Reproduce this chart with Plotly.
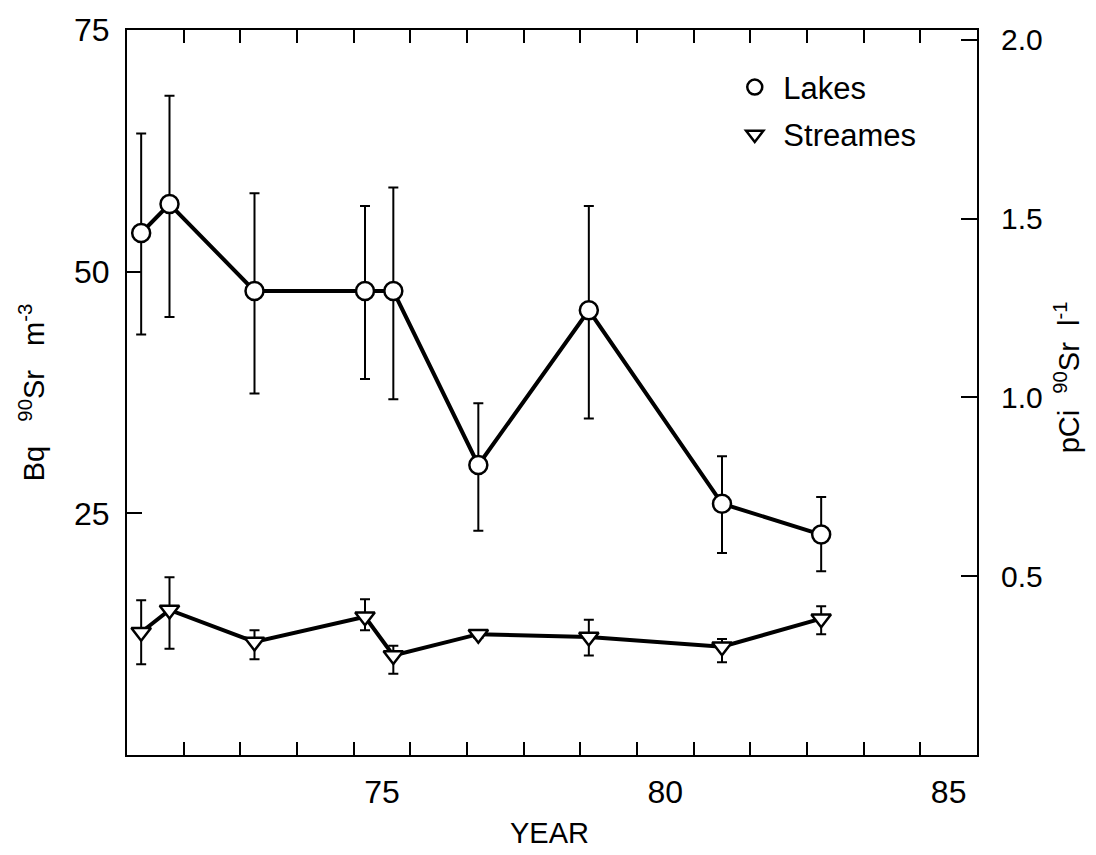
import plotly.graph_objects as go

# Sampling dates (decimal year, 19xx) and 90Sr activity in Bq m^-3
years = [71.25, 71.75, 73.25, 75.2, 75.7, 77.2, 79.15, 81.5, 83.25]

lakes = [54, 57, 48, 48, 48, 30, 46, 26, 22.8]
lakes_hi = [64.3, 68.2, 58.1, 56.8, 58.7, 36.4, 56.8, 30.9, 26.7]
lakes_lo = [43.5, 45.3, 37.4, 38.9, 36.8, 23.2, 34.8, 20.9, 19.0]

streams = [12.7, 15.0, 11.7, 14.3, 10.3, 12.5, 12.2, 11.2, 14.1]
streams_hi = [16.0, 18.4, 12.9, 16.1, 11.3, 12.9, 14.0, 12.0, 15.4]
streams_lo = [9.4, 11.0, 9.9, 12.9, 8.4, 12.1, 10.3, 9.6, 12.5]

# Axis ticks
year_ticks = list(range(72, 86))
year_label_pos = [75.5, 80.5, 85.5]
year_labels = ["75", "80", "85"]
bq_ticks = [25, 50, 75]
pci_ticks = [0.5, 1.0, 1.5, 2.0]
pci_labels = ["0.5", "1.0", "1.5", "2.0"]

BQ_PER_PCI = 37.0  # 1 pCi l^-1 = 37 Bq m^-3
BQ_MAX = 75

FONT = "Liberation Sans"
BLACK = "black"
SP = "&nbsp;"


def err(vals, hi, lo):
    return dict(
        type="data", symmetric=False,
        array=[h - v for v, h in zip(vals, hi)],
        arrayminus=[v - l for v, l in zip(vals, lo)],
        color=BLACK, thickness=2, width=5,
    )


fig = go.Figure()

fig.add_trace(go.Scatter(
    x=years, y=lakes, mode="lines+markers", showlegend=False,
    line=dict(color=BLACK, width=4),
    marker=dict(symbol="circle", size=18, color="white",
                line=dict(color=BLACK, width=2.5)),
    error_y=err(lakes, lakes_hi, lakes_lo),
))

fig.add_trace(go.Scatter(
    x=years, y=streams, mode="lines+markers", showlegend=False,
    line=dict(color=BLACK, width=4),
    marker=dict(symbol="triangle-down", size=17, color="white",
                line=dict(color=BLACK, width=2.5)),
    error_y=err(streams, streams_hi, streams_lo),
))

# Legend entries (symbols only), also anchoring the secondary axes
fig.add_trace(go.Scatter(
    x=[None], y=[None], mode="markers", name=SP + "Lakes", legendgroup="a",
    xaxis="x2", yaxis="y2",
    marker=dict(symbol="circle", size=15, color="white",
                line=dict(color=BLACK, width=2.5)),
))
fig.add_trace(go.Scatter(
    x=[None], y=[None], mode="markers", name=SP + "Streames",
    legendgroup="b", xaxis="x2", yaxis="y2",
    marker=dict(symbol="triangle-down", size=15, color="white",
                line=dict(color=BLACK, width=2.5)),
))

x_range = [71, 86]

fig.update_layout(
    width=1096, height=855, autosize=False,
    margin=dict(l=127, r=119, t=25, b=100),
    plot_bgcolor="white", paper_bgcolor="white",
    font=dict(family=FONT, color=BLACK, size=30),
    showlegend=True,
    legend=dict(
        x=0.715, y=0.958, xanchor="left", yanchor="top",
        font=dict(size=31, family=FONT), bgcolor="rgba(0,0,0,0)",
        tracegroupgap=4, itemwidth=30,
    ),
    xaxis=dict(
        range=x_range, tickmode="array", tickvals=year_ticks,
        showticklabels=False, ticks="inside", ticklen=13, tickwidth=2,
        tickcolor=BLACK, showline=True, linewidth=2, linecolor=BLACK,
        mirror="ticks", showgrid=False, zeroline=False,
    ),
    xaxis2=dict(
        overlaying="x", anchor="y", side="bottom", range=x_range,
        tickmode="array", tickvals=year_label_pos, ticktext=year_labels,
        ticks="outside", ticklen=9, tickcolor="rgba(0,0,0,0)",
        tickfont=dict(size=32, family=FONT),
        showline=False, showgrid=False, zeroline=False,
    ),
    yaxis=dict(
        range=[0, BQ_MAX], tickmode="array", tickvals=bq_ticks,
        ticks="inside", ticklen=15, tickwidth=2, tickcolor=BLACK,
        tickfont=dict(size=32, family=FONT), ticklabelstandoff=9,
        showline=True, linewidth=2, linecolor=BLACK,
        showgrid=False, zeroline=False,
    ),
    yaxis2=dict(
        overlaying="y", anchor="x", side="right",
        range=[0, BQ_MAX / BQ_PER_PCI], tickmode="array",
        tickvals=pci_ticks, ticktext=pci_labels,
        ticks="inside", ticklen=16, tickwidth=2, tickcolor=BLACK,
        tickfont=dict(size=30, family=FONT), ticklabelstandoff=16,
        showline=True, linewidth=2, linecolor=BLACK,
        showgrid=False, zeroline=False,
    ),
    annotations=[
        dict(text="YEAR", xref="paper", yref="paper", x=0.4976, y=-0.107,
             xanchor="center", yanchor="middle", showarrow=False,
             font=dict(size=29, family=FONT)),
        dict(text="Bq" + SP * 3 + "<sup>90</sup>Sr" + SP * 3 + "m<sup>-3</sup>",
             xref="paper", yref="paper", x=-0.112, y=0.5, textangle=-90,
             xanchor="center", yanchor="middle", showarrow=False,
             font=dict(size=29, family=FONT)),
        dict(text="pCi" + SP * 2 + "<sup>90</sup>Sr" + SP * 2 + "l<sup>-1</sup>",
             xref="paper", yref="paper", x=1.106, y=0.521, textangle=-90,
             xanchor="center", yanchor="middle", showarrow=False,
             font=dict(size=29, family=FONT)),
    ],
)

fig.write_html("out.html")
